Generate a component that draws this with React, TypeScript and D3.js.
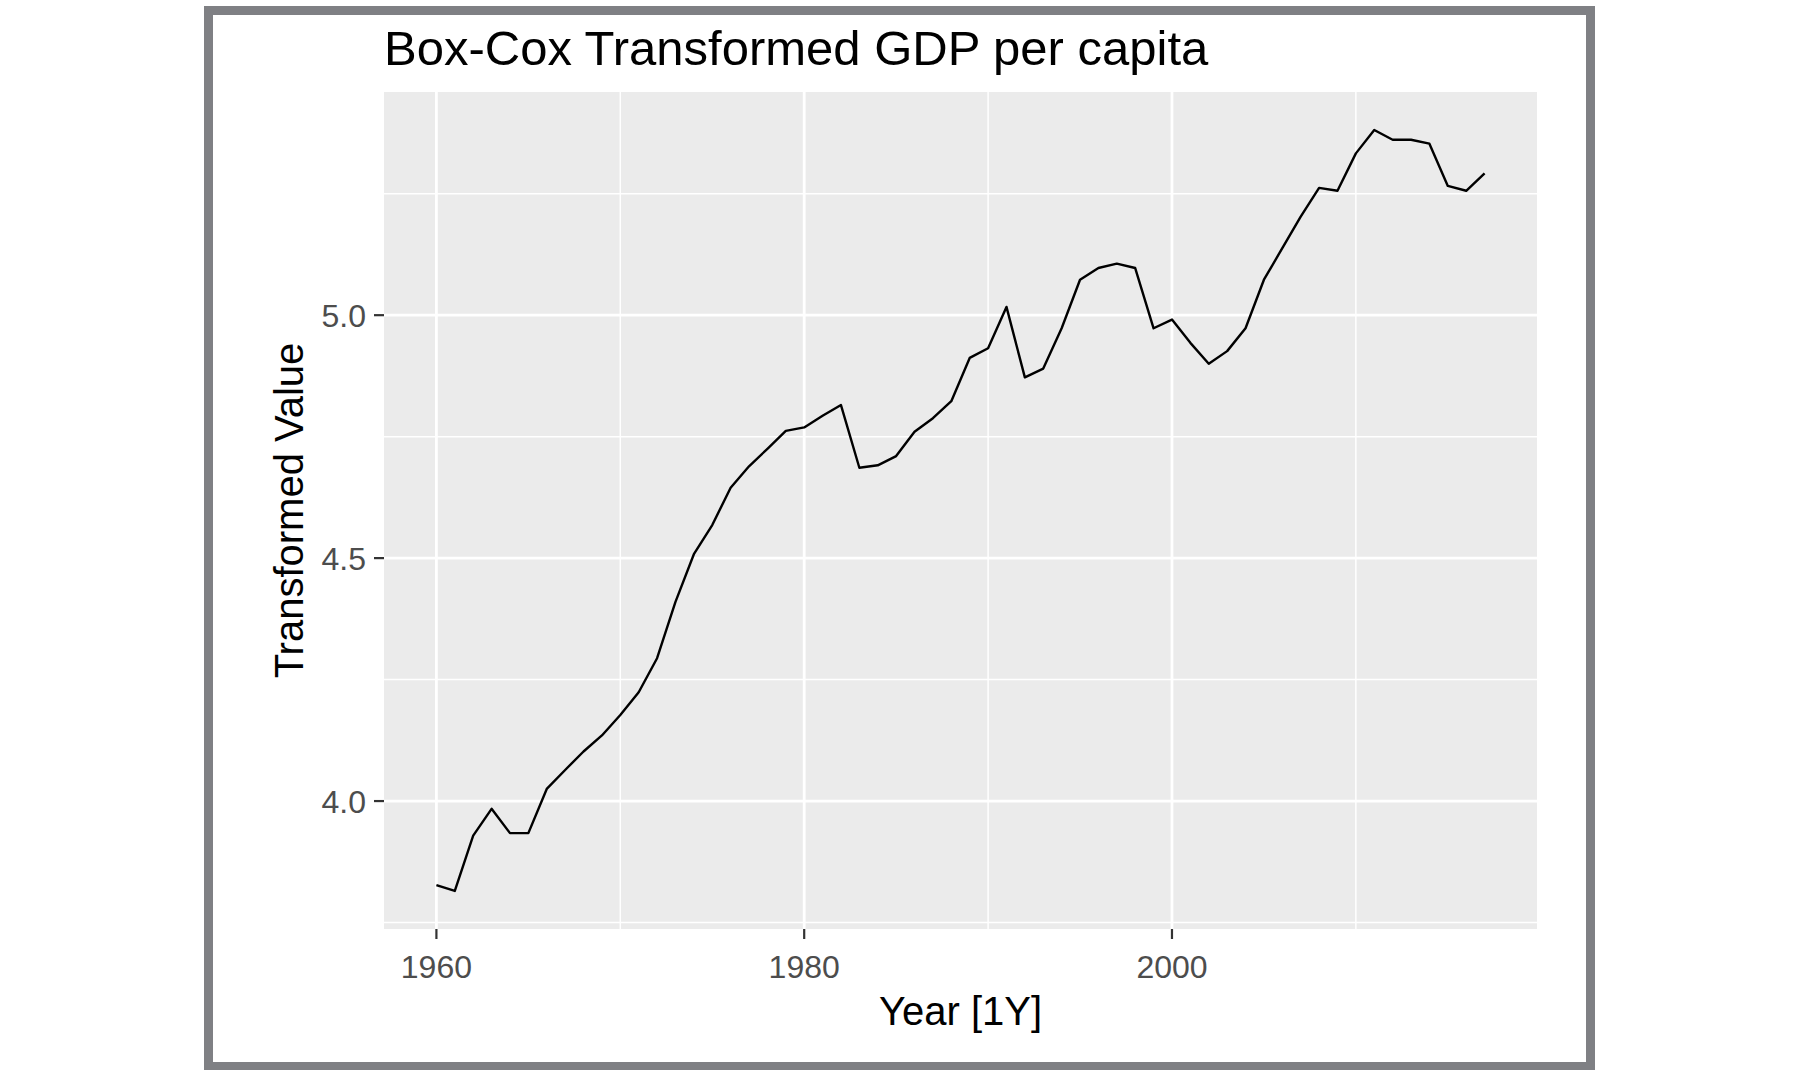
import React from "react";
import * as d3 from "d3";

const years: number[] = d3.range(1960, 2018);
const values: number[] = [
  3.827, 3.815, 3.929, 3.984, 3.934, 3.934, 4.025, 4.064, 4.102, 4.135,
  4.177, 4.224, 4.294, 4.41, 4.508, 4.568, 4.645, 4.689, 4.725, 4.762,
  4.769, 4.793, 4.815, 4.686, 4.691, 4.71, 4.76, 4.788, 4.823, 4.912,
  4.932, 5.017, 4.872, 4.89, 4.973, 5.073, 5.097, 5.106, 5.097, 4.973,
  4.991, 4.943, 4.9, 4.926, 4.973, 5.073, 5.138, 5.203, 5.262, 5.256,
  5.333, 5.381, 5.361, 5.361, 5.353, 5.266, 5.256, 5.292,
];
const xMajor: number[] = [1960, 1980, 2000];
const xMinor: number[] = [1970, 1990, 2010];
const yMajor: number[] = [4.0, 4.5, 5.0];
const yMinor: number[] = [3.75, 4.25, 4.75, 5.25];
const yTickLabels: string[] = ["4.0", "4.5", "5.0"];

const W = 1800;
const H = 1070;
const panel = { left: 384, right: 1537, top: 92, bottom: 929 };
const FONT = "'Liberation Sans', Arial, sans-serif";

function expand(ext: [number, number]): [number, number] {
  const r = ext[1] - ext[0];
  return [ext[0] - r * 0.05, ext[1] + r * 0.05];
}

export default function App() {
  const x = d3
    .scaleLinear()
    .domain(expand(d3.extent(years) as [number, number]))
    .range([panel.left, panel.right]);
  const y = d3
    .scaleLinear()
    .domain(expand(d3.extent(values) as [number, number]))
    .range([panel.bottom, panel.top]);

  const line = d3
    .line<number>()
    .x((_, i) => x(years[i]))
    .y((d) => y(d));

  const cx = (panel.left + panel.right) / 2;
  const cy = (panel.top + panel.bottom) / 2;

  return (
    <svg
      width={W}
      height={H}
      style={{ position: "absolute", left: 0, top: 0, background: "#fff" }}
      fontFamily={FONT}
    >
      <rect x={0} y={0} width={W} height={H} fill="#fff" />
      <rect
        x={208.5}
        y={10.5}
        width={1382}
        height={1056}
        fill="#fff"
        stroke="#7f8084"
        strokeWidth={9}
      />
      <text x={384} y={65} fontSize={49} fill="#000">
        Box-Cox Transformed GDP per capita
      </text>
      <rect
        x={panel.left}
        y={panel.top}
        width={panel.right - panel.left}
        height={panel.bottom - panel.top}
        fill="#ebebeb"
      />
      {yMinor.map((v) => (
        <line
          key={"ym" + v}
          x1={panel.left}
          x2={panel.right}
          y1={y(v)}
          y2={y(v)}
          stroke="#fff"
          strokeWidth={1.5}
        />
      ))}
      {xMinor.map((v) => (
        <line
          key={"xm" + v}
          x1={x(v)}
          x2={x(v)}
          y1={panel.top}
          y2={panel.bottom}
          stroke="#fff"
          strokeWidth={1.5}
        />
      ))}
      {yMajor.map((v) => (
        <line
          key={"yM" + v}
          x1={panel.left}
          x2={panel.right}
          y1={y(v)}
          y2={y(v)}
          stroke="#fff"
          strokeWidth={2.8}
        />
      ))}
      {xMajor.map((v) => (
        <line
          key={"xM" + v}
          x1={x(v)}
          x2={x(v)}
          y1={panel.top}
          y2={panel.bottom}
          stroke="#fff"
          strokeWidth={2.8}
        />
      ))}
      <path
        d={line(values) || ""}
        fill="none"
        stroke="#000"
        strokeWidth={2.4}
        strokeLinejoin="round"
      />
      {yMajor.map((v, i) => (
        <g key={"yt" + v}>
          <line
            x1={panel.left - 10}
            x2={panel.left}
            y1={y(v)}
            y2={y(v)}
            stroke="#333"
            strokeWidth={2.2}
          />
          <text
            x={panel.left - 18}
            y={y(v)}
            dy="0.36em"
            textAnchor="end"
            fontSize={32}
            fill="#4d4d4d"
          >
            {yTickLabels[i]}
          </text>
        </g>
      ))}
      {xMajor.map((v) => (
        <g key={"xt" + v}>
          <line
            x1={x(v)}
            x2={x(v)}
            y1={panel.bottom}
            y2={panel.bottom + 10}
            stroke="#333"
            strokeWidth={2.2}
          />
          <text
            x={x(v)}
            y={978}
            textAnchor="middle"
            fontSize={32}
            fill="#4d4d4d"
          >
            {String(v)}
          </text>
        </g>
      ))}
      <text x={cx} y={1025} textAnchor="middle" fontSize={40} fill="#000">
        Year [1Y]
      </text>
      <text
        transform={`translate(303,${cy}) rotate(-90)`}
        textAnchor="middle"
        fontSize={40}
        fill="#000"
      >
        Transformed Value
      </text>
    </svg>
  );
}
